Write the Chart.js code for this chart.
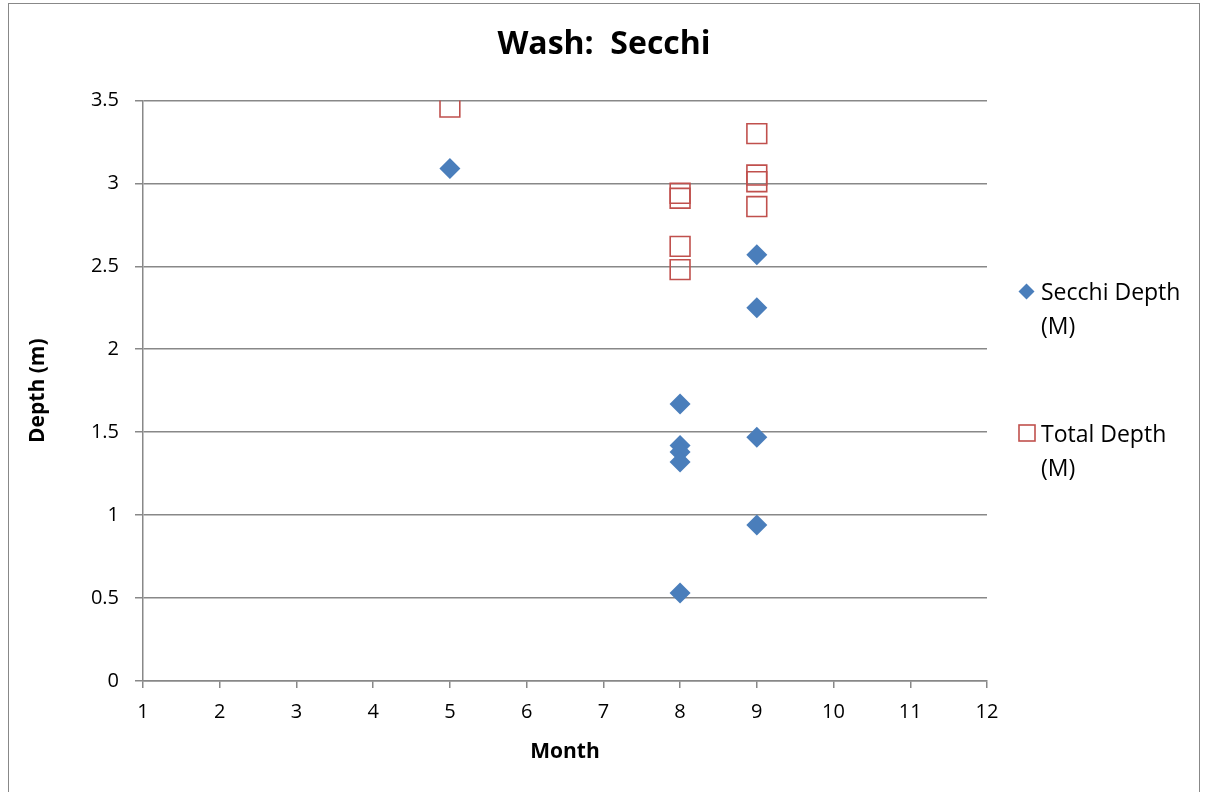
<!DOCTYPE html>
<html>
<head>
<meta charset="utf-8">
<script src="https://cdn.jsdelivr.net/npm/chart.js@4/dist/chart.umd.min.js"></script>
<style>
  html, body { margin: 0; padding: 0; background: #fff; }
  #wrap { position: relative; width: 1208px; height: 792px; }
  #frame { position: absolute; left: 8px; top: 3px; width: 1192px; height: 795px; border: 1px solid #888; box-sizing: border-box; }
  canvas { position: absolute; left: 0; top: 0; }
  .leg { position: absolute; font-family: "Open Sans", Lato, sans-serif; font-size: 23px; color: #000; line-height: 34px; white-space: nowrap; }
  .leg .sw { position: absolute; }
</style>
</head>
<body>
<div id="wrap">
  <div id="frame"></div>
  <canvas id="c" width="1208" height="792"></canvas>
  <div class="leg" style="left:1041px; top:274px;">
    <svg class="sw" style="left:-23px; top:9px;" width="17" height="17" viewBox="0 0 17 17"><polygon points="8.5,0.5 16.5,8.5 8.5,16.5 0.5,8.5" fill="#4a7ebb"/></svg>
    <span>Secchi Depth</span><br><span>(M)</span>
  </div>
  <div class="leg" style="left:1041px; top:416px;">
    <svg class="sw" style="left:-23px; top:8px;" width="18" height="18" viewBox="0 0 18 18"><rect x="1" y="1" width="16" height="16" fill="none" stroke="#c0504d" stroke-width="1.6"/></svg>
    <span>Total Depth</span><br><span>(M)</span>
  </div>
</div>
<script>
const secchiMonths = [5, 8, 8, 8, 8, 8, 9, 9, 9, 9];
const secchiDepth  = [3.09, 1.67, 1.42, 1.38, 1.32, 0.53, 2.57, 2.25, 1.47, 0.94];
const totalMonths  = [5, 8, 8, 8, 8, 9, 9, 9, 9];
const totalDepth   = [3.46, 2.94, 2.91, 2.62, 2.48, 3.30, 3.05, 3.01, 2.86];
const seriesNames  = ["Secchi Depth (M)", "Total Depth (M)"];
const xTicks = [1, 2, 3, 4, 5, 6, 7, 8, 9, 10, 11, 12];
const yTicks = [0, 0.5, 1, 1.5, 2, 2.5, 3, 3.5];

const FONT = '"Open Sans", Lato, sans-serif';

new Chart(document.getElementById('c'), {
  type: 'scatter',
  data: {
    datasets: [
      {
        label: seriesNames[0],
        data: secchiMonths.map((m, i) => ({ x: m, y: secchiDepth[i] })),
        pointStyle: 'rectRot',
        pointRadius: 10.5,
        pointHoverRadius: 10.5,
        backgroundColor: '#4a7ebb',
        borderColor: '#4a7ebb',
        borderWidth: 0
      },
      {
        label: seriesNames[1],
        data: totalMonths.map((m, i) => ({ x: m, y: totalDepth[i] })),
        pointStyle: 'rect',
        pointRadius: 14,
        pointHoverRadius: 14,
        backgroundColor: 'rgba(0,0,0,0)',
        borderColor: '#c0504d',
        borderWidth: 1.6
      }
    ]
  },
  options: {
    responsive: false,
    animation: false,
    layout: { padding: { left: 0, right: 0, top: 10, bottom: 0 } },
    plugins: {
      legend: { display: false },
      tooltip: { enabled: false },
      title: {
        display: true,
        text: 'Wash:  Secchi',
        color: '#000',
        font: { family: FONT, size: 32, weight: 'bold' },
        padding: { top: 16, bottom: 36 }
      }
    },
    scales: {
      x: {
        type: 'linear',
        min: xTicks[0],
        max: xTicks[xTicks.length - 1],
        afterBuildTicks: (axis) => { axis.ticks = xTicks.map(v => ({ value: v })); },
        afterFit: (axis) => { axis.height = 111; },
        grid: { drawOnChartArea: false, drawTicks: true, tickLength: 7, color: '#888', lineWidth: 1.5 },
        border: { display: true, color: '#888', width: 1.5 },
        ticks: { color: '#000', font: { family: FONT, size: 20 }, padding: 12, maxRotation: 0 },
        title: { display: true, text: 'Month', color: '#000', font: { family: FONT, size: 21, weight: 'bold' }, padding: { top: 0, bottom: 27 } }
      },
      y: {
        type: 'linear',
        position: 'left',
        min: yTicks[0],
        max: yTicks[yTicks.length - 1],
        afterBuildTicks: (axis) => { axis.ticks = yTicks.map(v => ({ value: v })); },
        afterFit: (axis) => { axis.width = 143; },
        grid: { color: '#888', lineWidth: 1.5, drawTicks: true, tickLength: 8 },
        border: { display: true, color: '#888', width: 1.5 },
        ticks: { color: '#000', font: { family: FONT, size: 20 }, padding: 16, callback: (v) => String(v) },
        title: { display: true, text: 'Depth (m)', color: '#000', font: { family: FONT, size: 21, weight: 'bold' }, padding: { top: 25, bottom: 0 } }
      },
      ySpace: {
        type: 'linear',
        position: 'right',
        display: true,
        afterFit: (axis) => { axis.width = 221; },
        grid: { display: false, drawTicks: false },
        border: { display: false },
        ticks: { display: false },
        title: { display: false }
      }
    }
  }
});
</script>
</body>
</html>
